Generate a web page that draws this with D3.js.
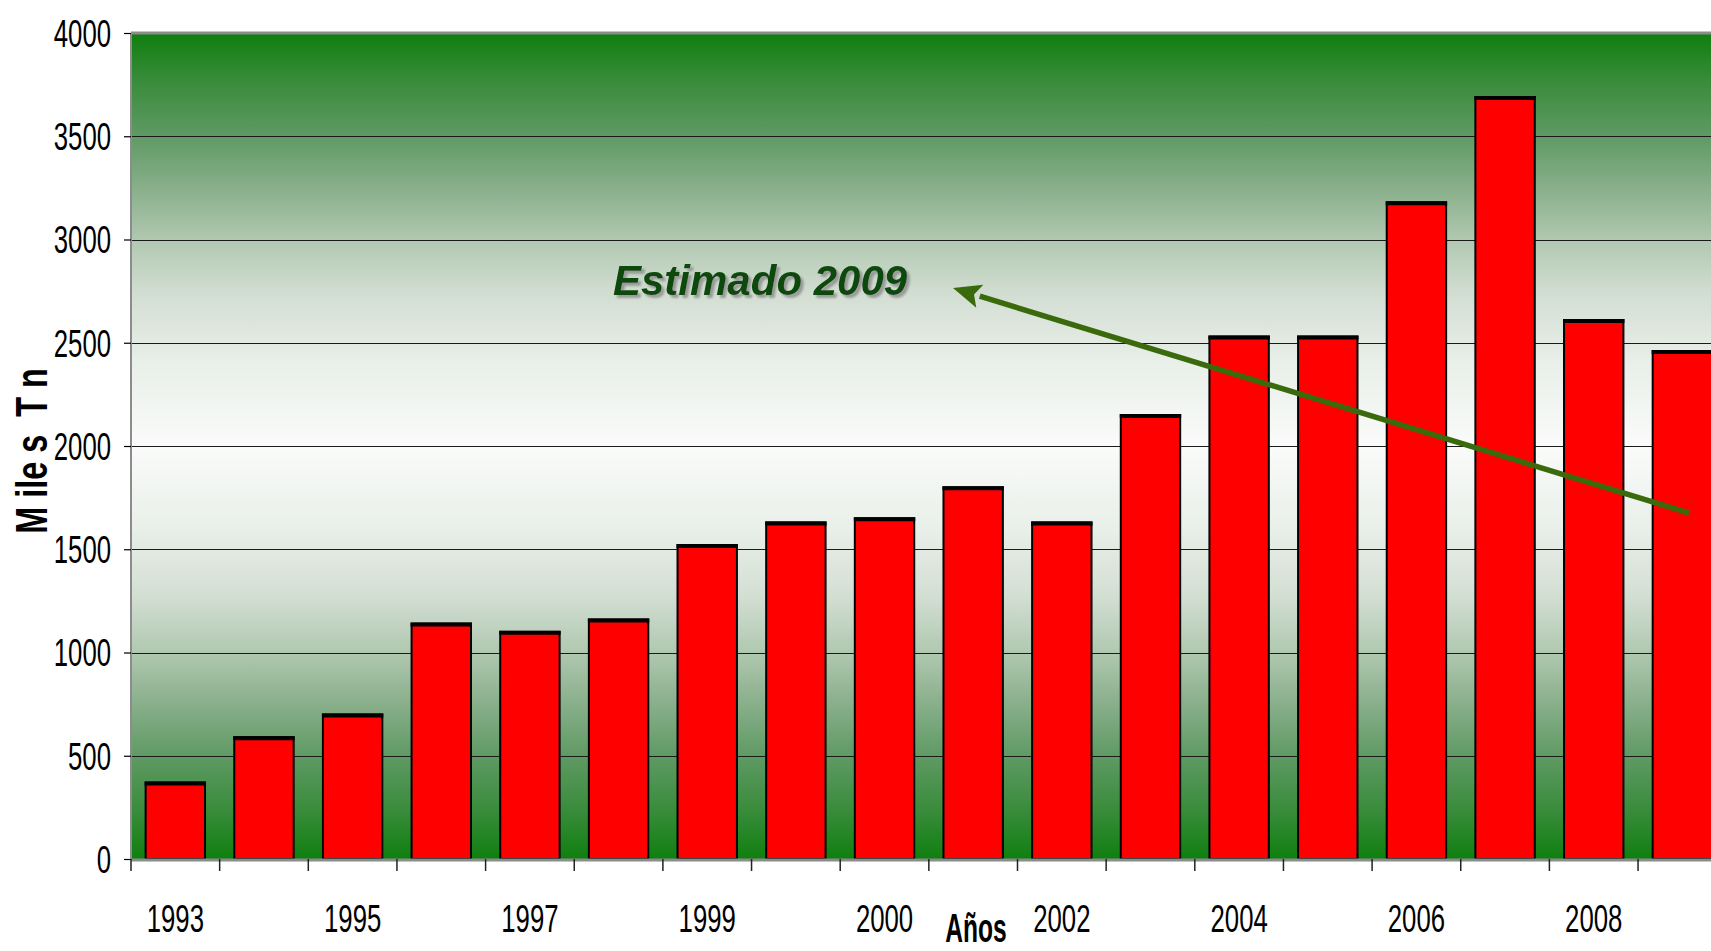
<!DOCTYPE html>
<html>
<head>
<meta charset="utf-8">
<script src="https://cdn.jsdelivr.net/npm/d3@7"></script>
<style>
  html, body { margin: 0; padding: 0; background: #ffffff; overflow: hidden; }
  svg { display: block; }
  .narrow { font-family: "Liberation Sans", Arial, sans-serif; }
</style>
</head>
<body>
<svg id="chart" width="1711" height="951"></svg>
<script>
// ---- data ----
const categories = ["1993","1994","1995","1996","1997","1998","1999","1999/00","2000","2001","2002","2003","2004","2005","2006","2007","2008","2009"];
const values     = [370, 590, 700, 1140, 1100, 1160, 1520, 1630, 1650, 1800, 1630, 2150, 2530, 2530, 3180, 3690, 2610, 2460];
const shownTickLabels = ["1993","1995","1997","1999","2000","2002","2004","2006","2008"];
const yTicks = [0, 500, 1000, 1500, 2000, 2500, 3000, 3500, 4000];
const yTitle = "M ile s  T n";
const xTitle = "Años";
const annotation = "Estimado 2009";

// ---- layout ----
const W = 1711, H = 951;
const plot = { left: 131, top: 33, bottom: 859, right: 131 + 18 * 88.65 };
const NARROW = 0.66;

const svg = d3.select("#chart");

const x = d3.scaleBand()
  .domain(categories)
  .range([plot.left, plot.right])
  .paddingInner(0.33)
  .paddingOuter(0.165);

const y = d3.scaleLinear()
  .domain([0, 4000])
  .range([plot.bottom, plot.top]);

// gradient background
const defs = svg.append("defs");
const grad = defs.append("linearGradient")
  .attr("id", "bg").attr("x1", 0).attr("y1", 0).attr("x2", 0).attr("y2", 1);
const stops = [
  [0, "#0f7f0f"], [0.06, "#3a8c3c"], [0.125, "#5f9a64"], [0.19, "#8ab08c"],
  [0.25, "#b0c8b0"], [0.32, "#d4dfd4"], [0.40, "#e9efe9"], [0.50, "#fafbfa"],
  [0.60, "#e9efe9"], [0.68, "#d4dfd4"], [0.75, "#b0c8b0"], [0.81, "#8ab08c"],
  [0.875, "#5f9a64"], [0.94, "#3a8c3c"], [1, "#0f7f0f"]
];
stops.forEach(s => grad.append("stop").attr("offset", s[0]).attr("stop-color", s[1]));

const shadow = defs.append("filter").attr("id", "txtshadow")
  .attr("x", "-10%").attr("y", "-20%").attr("width", "130%").attr("height", "160%");
shadow.append("feDropShadow").attr("dx", 3).attr("dy", 3).attr("stdDeviation", 1.2)
  .attr("flood-color", "#8a8a8a").attr("flood-opacity", 0.8);

svg.append("rect")
  .attr("x", plot.left).attr("y", plot.top)
  .attr("width", plot.right - plot.left).attr("height", plot.bottom - plot.top)
  .attr("fill", "url(#bg)");

// gridlines
svg.append("g")
  .selectAll("line")
  .data(yTicks.filter(d => d > 0 && d < 4000))
  .join("line")
  .attr("x1", plot.left).attr("x2", plot.right)
  .attr("y1", d => Math.round(y(d)) + 0.5).attr("y2", d => Math.round(y(d)) + 0.5)
  .attr("stroke", "#1a1a1a").attr("stroke-width", 1.2);

// top border
svg.append("line")
  .attr("x1", plot.left).attr("x2", plot.right)
  .attr("y1", plot.top).attr("y2", plot.top)
  .attr("stroke", "#8c8c8c").attr("stroke-width", 3);

// bars
const bars = svg.append("g");
bars.selectAll("rect")
  .data(categories)
  .join("rect")
  .attr("x", d => x(d))
  .attr("y", (d, i) => y(values[i]))
  .attr("width", x.bandwidth())
  .attr("height", (d, i) => y(0) - y(values[i]))
  .attr("fill", "#ff0000")
  .attr("stroke", "#000")
  .attr("stroke-width", 2);
bars.selectAll("line.topedge")
  .data(categories)
  .join("line")
  .attr("class", "topedge")
  .attr("x1", d => x(d) - 1).attr("x2", d => x(d) + x.bandwidth() + 1)
  .attr("y1", (d, i) => y(values[i]) + 1).attr("y2", (d, i) => y(values[i]) + 1)
  .attr("stroke", "#000").attr("stroke-width", 4);

// y axis line
svg.append("line")
  .attr("x1", plot.left).attr("x2", plot.left)
  .attr("y1", plot.top).attr("y2", plot.bottom)
  .attr("stroke", "#8c8c8c").attr("stroke-width", 2);

// y axis via d3
const yAxis = d3.axisLeft(y).tickValues(yTicks).tickSize(7).tickPadding(12).tickFormat(d3.format("d"));
const yg = svg.append("g").attr("transform", `translate(${plot.left},0)`).call(yAxis);
yg.select(".domain").remove();
yg.selectAll(".tick line").attr("stroke", "#000").attr("stroke-width", 1.2);
yg.selectAll(".tick text")
  .attr("class", "narrow")
  .attr("font-size", 39)
  .attr("fill", "#000")
  .attr("x", -20 / NARROW)
  .attr("transform", `scale(${NARROW},1)`)
  .attr("dy", "0.34em");

// x axis baseline
svg.append("line")
  .attr("x1", plot.left).attr("x2", plot.right)
  .attr("y1", plot.bottom + 1).attr("y2", plot.bottom + 1)
  .attr("stroke", "#8c8c8c").attr("stroke-width", 3);

// category boundary ticks
const step = x.step();
const boundaries = categories.map(d => x(d) - step * x.paddingInner() / 2);
svg.append("g")
  .selectAll("line")
  .data(boundaries)
  .join("line")
  .attr("x1", d => d).attr("x2", d => d)
  .attr("y1", plot.bottom).attr("y2", plot.bottom + 12)
  .attr("stroke", "#222").attr("stroke-width", 1.5);

// x labels through d3 axis
const xAxis = d3.axisBottom(x).tickSize(0).tickPadding(0)
  .tickFormat(d => shownTickLabels.includes(d) ? d : "");
const xg = svg.append("g").attr("transform", `translate(0,${plot.bottom})`).call(xAxis);
xg.select(".domain").remove();
xg.selectAll(".tick text")
  .attr("class", "narrow")
  .attr("font-size", 39)
  .attr("fill", "#000")
  .attr("transform", `scale(${NARROW},1)`)
  .attr("y", 73)
  .attr("dy", 0);

// axis titles
svg.append("text")
  .attr("class", "narrow")
  .attr("transform", `translate(976,942) scale(0.6,1)`)
  .attr("text-anchor", "middle")
  .attr("font-size", 41).attr("font-weight", "bold")
  .text(xTitle);

svg.append("text")
  .attr("class", "narrow")
  .attr("transform", `translate(47,451) rotate(-90) scale(0.72,1)`)
  .attr("text-anchor", "middle")
  .attr("font-size", 45).attr("font-weight", "bold")
  .style("white-space", "pre")
  .text(yTitle);

// annotation arrow
const arrowStart = { x: 1689, y: 513 };
const arrowEnd = { x: 953, y: 288 };
const ang = Math.atan2(arrowEnd.y - arrowStart.y, arrowEnd.x - arrowStart.x);
const headLen = 28, headHalf = 12;
const bx = arrowEnd.x - headLen * Math.cos(ang), by = arrowEnd.y - headLen * Math.sin(ang);
svg.append("line")
  .attr("x1", arrowStart.x).attr("y1", arrowStart.y)
  .attr("x2", bx).attr("y2", by)
  .attr("stroke", "#3b6a0c").attr("stroke-width", 5.5);
svg.append("path")
  .attr("d", `M${arrowEnd.x},${arrowEnd.y} L${bx + headHalf * Math.sin(ang)},${by - headHalf * Math.cos(ang)} L${bx + 6 * Math.cos(ang)},${by + 6 * Math.sin(ang)} L${bx - headHalf * Math.sin(ang)},${by + headHalf * Math.cos(ang)} Z`)
  .attr("fill", "#3b6a0c");

svg.append("text")
  .attr("x", 613).attr("y", 295)
  .attr("font-family", "'Liberation Sans', Arial, sans-serif")
  .attr("font-size", 42).attr("font-weight", "bold").attr("font-style", "italic")
  .attr("fill", "#0b4a0b")
  .attr("filter", "url(#txtshadow)")
  .text(annotation);
</script>
</body>
</html>
